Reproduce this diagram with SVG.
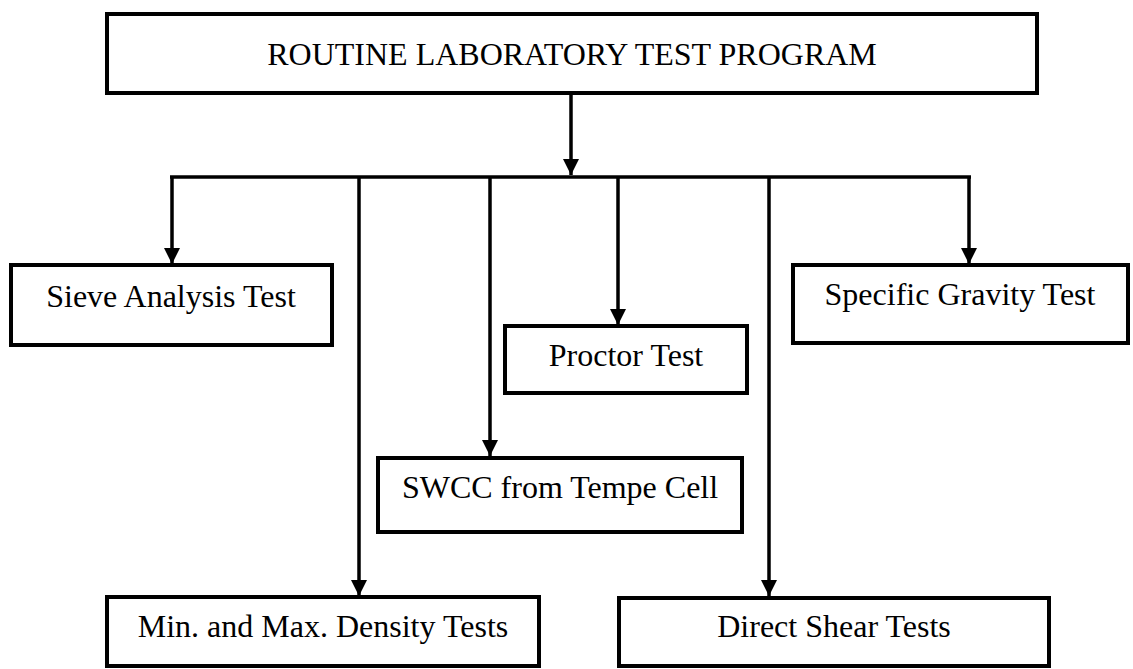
<svg xmlns="http://www.w3.org/2000/svg" width="1133" height="669" viewBox="0 0 1133 669">
<style>
.box{fill:#fff;stroke:#000;stroke-width:4}
.lbl{font-family:"Liberation Serif","Times New Roman",serif;font-size:32px;fill:#000;text-anchor:middle}
.ln{stroke:#000;stroke-width:3.5;fill:none}
.arr{stroke:#000;stroke-width:3.5;fill:none;marker-end:url(#ah)}
</style>
<defs>
<marker id="ah" markerUnits="userSpaceOnUse" markerWidth="16" markerHeight="16" viewBox="0 0 16 16" refX="16" refY="8" orient="auto">
<path d="M0,0 L16,8 L0,16 Z" fill="#000"/>
</marker>
</defs>
<rect width="1133" height="669" fill="#fff"/>
<g id="connectors">
<line class="arr" x1="571" y1="93" x2="571" y2="175"/>
<line class="ln" x1="170" y1="177" x2="971" y2="177"/>
<line class="arr" x1="172" y1="177" x2="172" y2="264"/>
<line class="arr" x1="359" y1="177" x2="359" y2="596"/>
<line class="arr" x1="490" y1="177" x2="490" y2="456"/>
<line class="arr" x1="618" y1="177" x2="618" y2="325"/>
<line class="arr" x1="769" y1="177" x2="769" y2="596"/>
<line class="arr" x1="969" y1="177" x2="969" y2="264"/>
</g>
<g id="title">
<rect class="box" x="107" y="14" width="930" height="79"/>
<text class="lbl" x="572" y="65">ROUTINE LABORATORY TEST PROGRAM</text>
</g>
<g id="sieve">
<rect class="box" x="11" y="265" width="321" height="80"/>
<text class="lbl" x="171" y="307">Sieve Analysis Test</text>
</g>
<g id="proctor">
<rect class="box" x="505" y="326" width="242" height="67"/>
<text class="lbl" x="626" y="366">Proctor Test</text>
</g>
<g id="gravity">
<rect class="box" x="793" y="265" width="335" height="78"/>
<text class="lbl" x="960" y="305">Specific Gravity Test</text>
</g>
<g id="swcc">
<rect class="box" x="378" y="458" width="364" height="74"/>
<text class="lbl" x="560" y="498">SWCC from Tempe Cell</text>
</g>
<g id="density">
<rect class="box" x="107" y="597" width="432" height="69"/>
<text class="lbl" x="323" y="637">Min. and Max. Density Tests</text>
</g>
<g id="shear">
<rect class="box" x="619" y="598" width="430" height="68"/>
<text class="lbl" x="834" y="637">Direct Shear Tests</text>
</g>
</svg>
